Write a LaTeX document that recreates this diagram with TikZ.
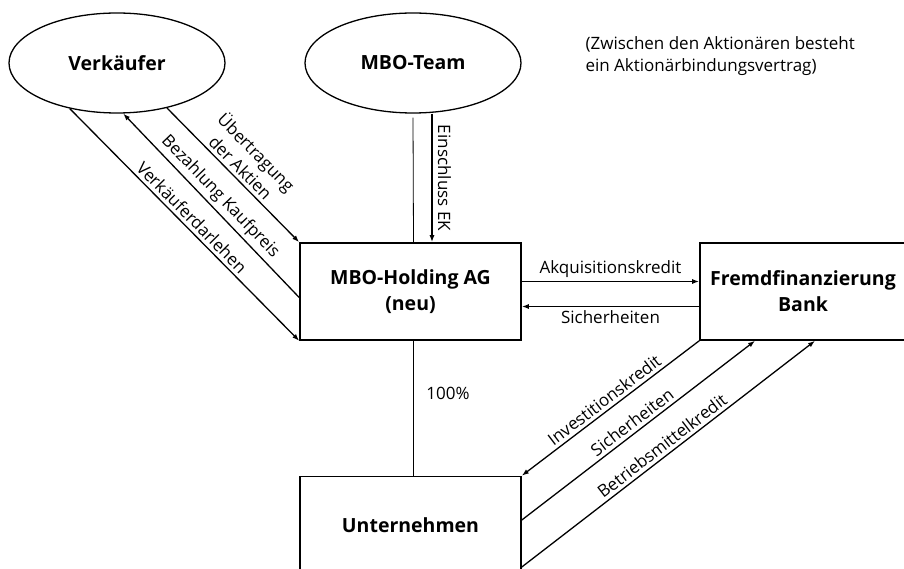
\documentclass[tikz,border=0pt]{standalone}
\usepackage{fontspec}
\setmainfont{Open Sans}
\usepackage{tikz}
\usetikzlibrary{positioning,shapes.geometric,arrows.meta}

\begin{document}
\begin{tikzpicture}[x=1pt,y=-1pt,>={Latex[length=7pt,width=5pt]},
    linea/.style={line width=1.3pt},
    ellisse/.style={ellipse,draw,line width=1.3pt,minimum width=216pt,minimum height=100pt,inner sep=0pt,font=\fontsize{19.5}{24}\selectfont\bfseries},
    scatola/.style={rectangle,draw,line width=1.6pt,minimum width=221pt,minimum height=97pt,align=center,font=\fontsize{19.5}{26}\selectfont\bfseries},
    etichetta/.style={font=\fontsize{17}{22}\selectfont}]
        \useasboundingbox (0,0) rectangle (904,569);
        % Ellissi in alto
        \node[ellisse] (verk) at (117,63) {Verkäufer};
        \node[ellisse] (team) at (413,63) {MBO-Team};
        % Scatole
        \node[scatola] (holding) at (410.5,291.5) {MBO-Holding AG\\(neu)};
        \node[scatola,minimum width=206pt] (bank) at (803,291.5) {Fremdfinanzierung\\Bank};
        \node[scatola] (unt) at (410.5,525) {Unternehmen};
        % Nota
        \node[etichetta,align=left,anchor=north west] (nota) at (582,33) {(Zwischen den Aktionären besteht\\ein Aktionärbindungsvertrag)};
        % Verkaeufer - Holding
        \draw[linea,->] (verk.-42) -- (holding.north west) node[midway,sloped,above,etichetta,align=center] {Übertragung\\der Aktien};
        \draw[linea,->] ([yshift=-6pt]holding.west) -- (verk.-83) node[midway,sloped,above,etichetta] {Bezahlung Kaufpreis};
        \draw[linea,->] (verk.-136) -- (holding.south west) node[midway,sloped,above,etichetta] {Verkäuferdarlehen};
        % Team - Holding
        \draw[line width=0.8pt] ([yshift=-4pt]team.south) -- ([xshift=3pt]holding.north);
        \draw[linea,->] ([xshift=19pt]team.south) -- ([xshift=21.5pt]holding.north) node[midway,anchor=south,rotate=-90,etichetta,yshift=2pt] {Einschluss EK};
        % Holding - Unternehmen
        \draw[linea] ([xshift=3pt]holding.south) -- ([xshift=3pt]unt.north) node[pos=0.39,right=9pt,etichetta] {100\%};
        % Holding - Bank
        \draw[linea,->] ([yshift=10pt]holding.east) -- ([yshift=10pt]bank.west) node[midway,above,etichetta] {Akquisitionskredit};
        \draw[linea,->] ([yshift=-15pt]bank.west) -- ([yshift=-15pt]holding.east) node[midway,below,etichetta] {Sicherheiten};
        % Bank - Unternehmen
        \draw[linea,->] (bank.south west) -- (unt.north east) node[midway,sloped,above,etichetta] {Investitionskredit};
        \draw[linea,->] ([yshift=5pt]unt.east) -- ([xshift=-48pt]bank.south) node[midway,sloped,above,etichetta] {Sicherheiten};
        \draw[linea,->] ([yshift=-42pt]unt.east) -- ([xshift=12pt]bank.south) node[midway,sloped,above,etichetta] {Betriebsmittelkredit};
\end{tikzpicture}
\end{document}
